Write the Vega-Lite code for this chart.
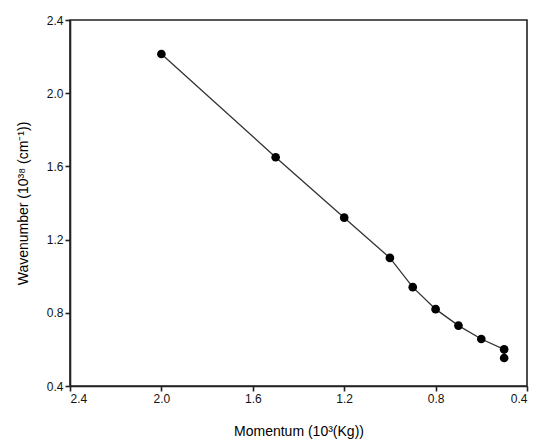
{
  "$schema": "https://vega.github.io/schema/vega-lite/v6.json",
  "autosize": "none",
  "width": 457,
  "height": 366,
  "padding": {"left": 70, "top": 20, "right": 13, "bottom": 59},
  "background": "white",
  "config": {
    "view": {"stroke": "#222", "strokeWidth": 1.6},
    "font": "Liberation Sans"
  },
  "data": {
    "values": [
      {"momentum": 2.0, "wavenumber": 2.214, "order": 1},
      {"momentum": 1.5, "wavenumber": 1.65, "order": 2},
      {"momentum": 1.2, "wavenumber": 1.32, "order": 3},
      {"momentum": 1.0, "wavenumber": 1.10, "order": 4},
      {"momentum": 0.9, "wavenumber": 0.94, "order": 5},
      {"momentum": 0.8, "wavenumber": 0.82, "order": 6},
      {"momentum": 0.7, "wavenumber": 0.73, "order": 7},
      {"momentum": 0.6, "wavenumber": 0.657, "order": 8},
      {"momentum": 0.5, "wavenumber": 0.60, "order": 9},
      {"momentum": 0.5, "wavenumber": 0.553, "order": 10}
    ]
  },
  "encoding": {
    "x": {
      "field": "momentum", "type": "quantitative",
      "scale": {"domain": [0.4, 2.4], "reverse": true, "nice": false, "zero": false},
      "axis": {
        "title": "Momentum (10³(Kg))",
        "values": [0.4, 0.8, 1.2, 1.6, 2.0, 2.4],
        "format": ".1f",
        "grid": false,
        "domainColor": "#222", "domainWidth": 1.6,
        "tickColor": "#222", "tickWidth": 1.6, "tickSize": 5,
        "labelFont": "Liberation Sans", "labelFontSize": 12, "labelColor": "#111", "labelPadding": 2,
        "titleFont": "Liberation Sans", "titleFontSize": 14, "titleFontWeight": "normal", "titleColor": "#000", "titlePadding": 20
      }
    },
    "y": {
      "field": "wavenumber", "type": "quantitative",
      "scale": {"domain": [0.4, 2.4], "nice": false, "zero": false},
      "axis": {
        "title": "Wavenumber (10³⁸ (cm⁻¹))",
        "values": [0.4, 0.8, 1.2, 1.6, 2.0, 2.4],
        "format": ".1f",
        "grid": false,
        "domainColor": "#222", "domainWidth": 1.6,
        "tickColor": "#222", "tickWidth": 1.6, "tickSize": 5,
        "labelFont": "Liberation Sans", "labelFontSize": 12, "labelColor": "#111", "labelPadding": 2,
        "titleFont": "Liberation Sans", "titleFontSize": 14, "titleFontWeight": "normal", "titleColor": "#000", "titlePadding": 16
      }
    },
    "order": {"field": "order", "type": "quantitative"}
  },
  "layer": [
    {"mark": {"type": "line", "color": "#333", "strokeWidth": 1.3}},
    {"mark": {"type": "point", "filled": true, "color": "#000", "size": 75, "opacity": 1}}
  ]
}
